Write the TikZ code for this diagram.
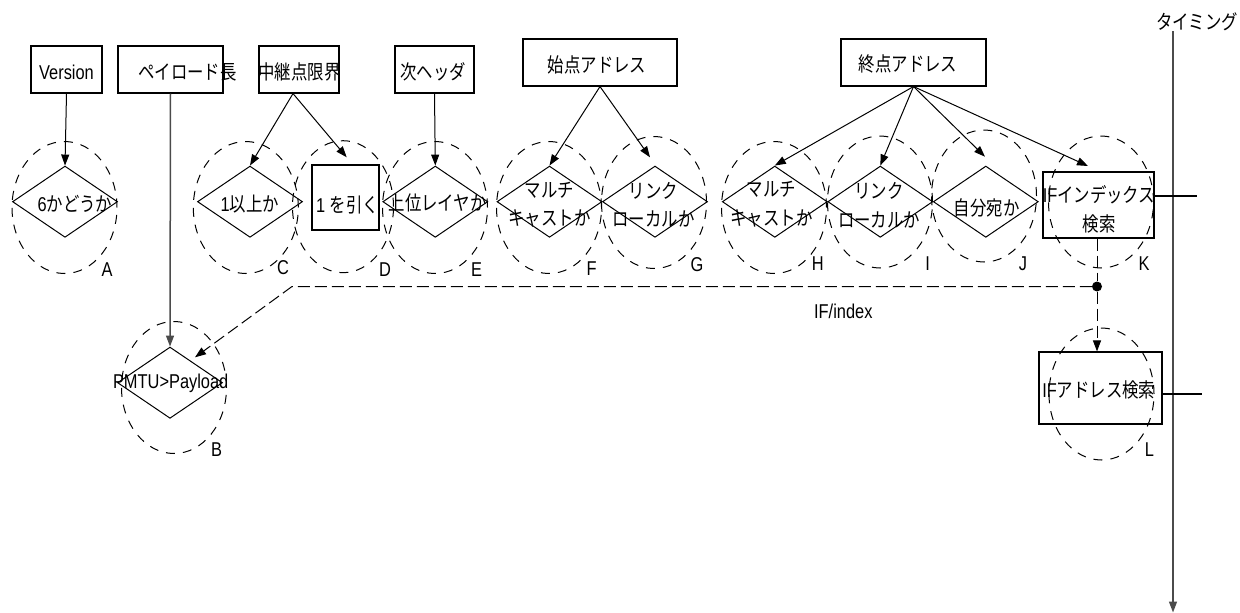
\documentclass[tikz,border=0pt]{standalone}
\usepackage{fontspec}
\setmainfont{Liberation Sans}[FakeStretch=0.82]
\newfontfamily\jp{Noto Sans CJK JP}[FakeStretch=0.82]
\usetikzlibrary{shapes.geometric,arrows.meta}
\begin{document}
\begin{tikzpicture}[x=1pt,y=-1pt,
  every node/.style={font=\fontsize{20}{28.5}\selectfont},
  box/.style={draw, line width=1.1pt, inner sep=0pt},
  dia/.style={draw, diamond, line width=1pt, inner sep=0pt, minimum width=105pt, minimum height=71.3pt},
  ring/.style={draw, ellipse, line width=1pt, dash pattern=on 9pt off 8pt, inner sep=0pt, minimum width=105pt, minimum height=132pt},
  txt/.style={inner sep=0pt, align=center},
  jtxt/.style={inner sep=0pt, align=center, font=\fontsize{20}{28.5}\selectfont\jp},
  lab/.style={inner sep=0pt},
  arr/.style={-{Triangle[length=11pt,width=8pt]}, line width=1pt},
  garr/.style={-{Triangle[length=11pt,width=8pt]}, line width=1.5pt, draw={rgb,255:red,75;green,75;blue,75}, fill={rgb,255:red,40;green,40;blue,40}},
  dsh/.style={line width=1pt, dash pattern=on 12pt off 5pt},
  dot/.style={circle, fill=black, inner sep=0pt, minimum size=10pt}
]
\useasboundingbox (0,0) rectangle (1240,613);

% top boxes
\node[box, minimum width=71pt, minimum height=47pt] (ver) at (66.5,69.5) {};
\node[txt] (verT) at (66.5,72) {Version};
\node[box, minimum width=105pt, minimum height=47pt] (pay) at (170.5,69.5) {};
\node[jtxt] (payT) at (187.5,72.5) {ペイロード長};
\node[box, minimum width=80pt, minimum height=47pt] (hop) at (299,69.5) {};
\node[jtxt] (hopT) at (299.5,72) {中継点限界};
\node[box, minimum width=79pt, minimum height=47pt] (nxt) at (434.5,69.5) {};
\node[jtxt] (nxtT) at (433,72) {次ヘッダ};
\node[box, minimum width=154pt, minimum height=47pt] (src) at (600,62.5) {};
\node[jtxt] (srcT) at (597,65) {始点アドレス};
\node[box, minimum width=145pt, minimum height=47pt] (dst) at (913.5,62.5) {};
\node[jtxt] (dstT) at (908,64) {終点アドレス};

% diamonds and boxes of the row
\node[dia] (dA) at (65,201.7) {};
\node[dia] (dC) at (250,201.7) {};
\node[box, minimum width=67pt, minimum height=65pt] (bD) at (345.5,197.5) {};
\node[dia] (dE) at (435.3,201.7) {};
\node[dia] (dF) at (549.5,201.7) {};
\node[dia] (dG) at (655,201.7) {};
\node[dia] (dH) at (774.8,201.7) {};
\node[dia] (dI) at (880.3,201.7) {};
\node[dia] (dJ) at (985.8,201.7) {};
\node[box, minimum width=111pt, minimum height=66pt] (bK) at (1098.5,205) {};
\node[dia] (dB) at (170,382.7) {};
\node[box, minimum width=123pt, minimum height=72pt] (bL) at (1100.5,388) {};

% texts
\node[txt] (tA) at (75,204) {6{\jp かどうか}};
\node[txt] (tC) at (249.7,204) {1{\jp 以上か}};
\node[txt] (tD) at (347.5,205) {1 {\jp を引く}};
\node[jtxt] (tE) at (437.7,203.3) {上位レイヤか};
\node[jtxt] (tF) at (549.5,204.5) {マルチ\\キャストか};
\node[jtxt] (tG) at (653.5,204.5) {リンク\\ローカルか};
\node[jtxt] (tH) at (771.5,204) {マルチ\\キャストか};
\node[jtxt] (tI) at (879,205) {リンク\\ローカルか};
\node[jtxt] (tJ) at (986.7,208.3) {自分宛か};
\node[txt] (tK) at (1099,209.5) {IF{\jp インデックス}\\{\jp 検索}};
\node[txt] (tB) at (170.7,383) {PMTU>Payload};
\node[txt] (tL) at (1098.8,390) {IF{\jp アドレス検索}};

% dashed rings
\node[ring] (cA) at (64.5,207.5) {};
\node[ring] (cC) at (245.8,207.5) {};
\node[ring, minimum width=101pt] (cD) at (343,206.7) {};
\node[ring] (cE) at (435,207.5) {};
\node[ring] (cF) at (549,207.5) {};
\node[ring] (cG) at (654,202.5) {};
\node[ring] (cH) at (774,207.5) {};
\node[ring] (cI) at (880,202) {};
\node[ring] (cJ) at (984,196) {};
\node[ring] (cK) at (1101,202) {};
\node[ring] (cB) at (174,387.5) {};
\node[ring] (cL) at (1101.5,394) {};

% labels
\node[lab] (lA) at (107,270) {A};
\node[lab] (lB) at (216.7,450) {B};
\node[lab] (lC) at (283,268) {C};
\node[lab] (lD) at (385,270) {D};
\node[lab] (lE) at (476.7,270) {E};
\node[lab] (lF) at (591.7,268.3) {F};
\node[lab] (lG) at (697,265) {G};
\node[lab] (lH) at (817.7,263.3) {H};
\node[lab] (lI) at (927.7,263.3) {I};
\node[lab] (lJ) at (1023,263.3) {J};
\node[lab] (lK) at (1144,264) {K};
\node[lab] (lL) at (1149.3,450) {L};

% arrows
\draw[arr] (ver.south) -- (dA.north);
\draw[garr] (pay.south) -- (dB.north);
\coordinate (hopO) at ([xshift=-6pt]hop.south);
\coordinate (pD) at (346.7,157.3);
\draw[arr] (hopO) -- (dC.north);
\draw[arr] (hopO) -- (pD);
\draw[arr] (nxt.south) -- (dE.north);
\coordinate (pG) at (650,157.3);
\draw[arr] (src.south) -- (dF.north);
\draw[arr] (src.south) -- (pG);
\coordinate (pJ) at (985,156.7);
\coordinate (pK) at (1088,166);
\draw[arr] (dst.south) -- (dH.north);
\draw[arr] (dst.south) -- (dI.north);
\draw[arr] (dst.south) -- (pJ);
\draw[arr] (dst.south) -- (pK);

% IF/index dashed path
\node[dot] (dot) at (1097,286.5) {};
\coordinate (cor) at (292,286.5);
\coordinate (pB) at (195,357.3);
\draw[dsh] (bK.south -| dot) -- (dot);
\draw[dsh, arr] (dot) -- (cor) -- (pB);
\draw[dsh, arr] (dot) -- (bL.north -| dot);
\node[txt] (ifT) at (843.3,311.7) {IF/index};

% timeline
\coordinate (tl0) at (1173,31);
\coordinate (tl1) at (1173,612.5);
\draw[garr] (tl0) -- (tl1);
\node[jtxt] (timT) at (1197,22) {タイミング};
\coordinate (tkK) at (1197,196);
\coordinate (tkL) at (1202,394);
\draw[line width=1.1pt] (bK.east |- tkK) -- (tkK);
\draw[line width=1.1pt] (bL.east |- tkL) -- (tkL);
\end{tikzpicture}
\end{document}
